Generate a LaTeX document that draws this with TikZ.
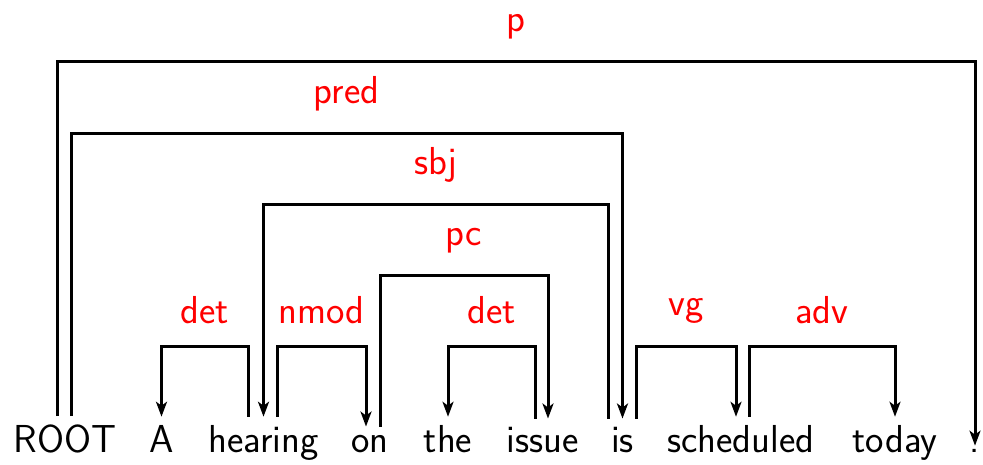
\documentclass[tikz,border=0pt]{standalone}
\usepackage{fontspec}
\usetikzlibrary{arrows.meta}
\begin{document}
\begin{tikzpicture}[x=1pt,y=1pt,
  txt/.style={font=\fontsize{39}{47}\selectfont\sffamily},
  word/.style={txt, anchor=base, inner xsep=0pt, inner ysep=8pt},
  lab/.style={txt, text=red, inner sep=0pt, above=21pt},
  arc/.style={line width=3pt, line join=miter},
  dep/.style={arc, -{Stealth[length=15pt,width=11pt,inset=4pt]}}
]
\useasboundingbox (0,0) rectangle (983,464);

% sentence, on a common baseline
\node[word] (root) at (65,12)    {ROOT};
\node[word] (a)    at (161.5,12) {A};
\node[word] (hear) at (263.5,12) {hearing};
\node[word] (on)   at (370,12)   {on};
\node[word] (the)  at (448,12)   {the};
\node[word] (iss)  at (542.5,12) {issue};
\node[word] (is)   at (622.5,12) {is};
\node[word] (sch)  at (741,12)   {scheduled};
\node[word] (tod)  at (895,12)   {today};
\node[word, inner ysep=3pt] (dot) at (975,12) {.};

% heights of the arc levels
\coordinate (lv1) at (0,118);
\coordinate (lv2) at (0,188.5);
\coordinate (lv3) at (0,259);
\coordinate (lv4) at (0,330.5);
\coordinate (lv5) at (0,402);

% where several arcs leave or reach the same word
\coordinate (root-l) at ([xshift=-8pt]root.north);
\coordinate (root-r) at ([xshift=6pt]root.north);
\coordinate (hear-l) at ([xshift=-15.5pt]hear.north);
\coordinate (hear-r) at ([xshift=13.5pt]hear.north);
\coordinate (on-l)   at ([xshift=-4pt]on.north);
\coordinate (on-r)   at ([xshift=10pt]on.north);
\coordinate (iss-l)  at ([xshift=-7.5pt]iss.north);
\coordinate (iss-r)  at ([xshift=5.5pt]iss.north);
\coordinate (is-l)   at ([xshift=-14.5pt]is.north);
\coordinate (is-r)   at ([xshift=13.5pt]is.north);
\coordinate (sch-l)  at ([xshift=-5pt]sch.north);
\coordinate (sch-r)  at ([xshift=8pt]sch.north);

% dependency arcs, head to dependent
\draw[dep] (hear-l) -- (hear-l |- lv1) -| node[lab,pos=0.25]{det}  (a.north);
\draw[dep] (hear-r) -- (hear-r |- lv1) -| node[lab,pos=0.25]{nmod} (on-l);
\draw[dep] (iss-l)  -- (iss-l |- lv1)  -| node[lab,pos=0.25]{det}  (the.north);
\draw[dep] (is-r)   -- (is-r |- lv1)   -| node[lab,pos=0.25]{vg}   (sch-l);
\draw[dep] (sch-r)  -- (sch-r |- lv1)  -| node[lab,pos=0.25]{adv}  (tod.north);
\draw[dep] (on-r)   -- (on-r |- lv2)   -| node[lab,pos=0.25]{pc}   (iss-r);
\draw[dep] (is-l)   -- (is-l |- lv3)   -| node[lab,pos=0.25]{sbj}  (hear.north);
\draw[dep] (root-r) -- (root-r |- lv4) -| node[lab,pos=0.25]{pred} (is.north);
\draw[dep] (root-l) -- (root-l |- lv5) -| node[lab,pos=0.25]{p}    (dot.north);
\end{tikzpicture}
\end{document}
